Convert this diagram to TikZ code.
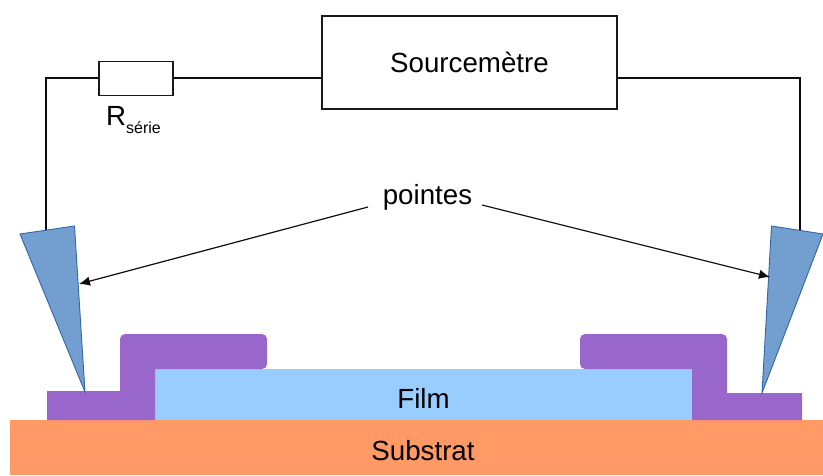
\documentclass[tikz,border=0pt]{standalone}
\usepackage{fontspec}
\setmainfont{Liberation Sans}
\usetikzlibrary{arrows.meta}
\definecolor{purp}{HTML}{9966CC}
\definecolor{filmc}{HTML}{99CCFF}
\definecolor{subc}{HTML}{FF9966}
\definecolor{tipc}{HTML}{729FCF}
\definecolor{tipe}{HTML}{3465A4}
\tikzset{
  wire/.style={line width=2.7pt,black!95},
  boxa/.style={draw=black!90,line width=1.5pt,fill=white,inner sep=0pt,anchor=north west},
  lbl/.style={font=\fontsize{27.7}{30}\selectfont,inner sep=0pt,text=black},
  pin/.style={draw=tipe,line width=0.9pt,fill=tipc,line join=miter},
  contact/.style={fill=purp,draw=none,rounded corners=5pt},
  arr/.style={line width=1.2pt,black!95,-{Latex[length=11pt,width=9.5pt]}},
}
\begin{document}
\begin{tikzpicture}[x=1pt,y=-1pt]
\useasboundingbox (0,0) rectangle (823,475);
% layers
\fill[subc] (10,420) rectangle (823,475);
\fill[filmc] (155,369) rectangle (692,420);
\fill[contact] (47,420) [sharp corners] -- (47,391) -- (120,391) [rounded corners=5pt] -- (120,334) -- (267,334) -- (267,369) [sharp corners] -- (155,369) -- (155,420) -- cycle;
\fill[contact] (802,420) [sharp corners] -- (802,393) -- (727,393) [rounded corners=5pt] -- (727,334) -- (580,334) -- (580,369) [sharp corners] -- (692,369) -- (692,420) -- cycle;
% circuit
\node[boxa,minimum width=295pt,minimum height=93pt] (src) at (321.4,15.4) {};
\node[lbl] at (469.5,62.5) {Sourcemètre};
\node[boxa,minimum width=74pt,minimum height=34pt] (res) at (98.4,60.6) {};
\coordinate (cl) at (46,78);
\coordinate (cr) at (800,78);
\coordinate (pl) at (46,231);
\coordinate (pr) at (800,232);
\draw[wire,line join=miter] (pl) -- (cl) -- (res.west |- cl);
\draw[wire] (res.east |- cl) -- (src.west |- cl);
\draw[wire,line join=miter] (src.east |- cr) -- (cr) -- (pr);
\node[lbl,anchor=base west] at (106,125) {R};
\node[font=\fontsize{16}{18}\selectfont,inner sep=0pt,anchor=base west] at (126,133) {série};
% pins
\draw[pin] (20,234) -- (74.5,226) -- (85,392) -- cycle;
\draw[pin] (771.5,226) -- (823,234) -- (762,393) -- cycle;
% labels
\node[lbl] (pt) at (427.5,197) {pointes};
\node[lbl] (film) at (423.5,398) {Film};
\node[lbl] (sub) at (423,451) {Substrat};
\coordinate (al) at (79,284);
\coordinate (ar) at (770,277);
\draw[arr] (368,207) -- (al);
\draw[arr] (482,205) -- (ar);
\end{tikzpicture}
\end{document}
